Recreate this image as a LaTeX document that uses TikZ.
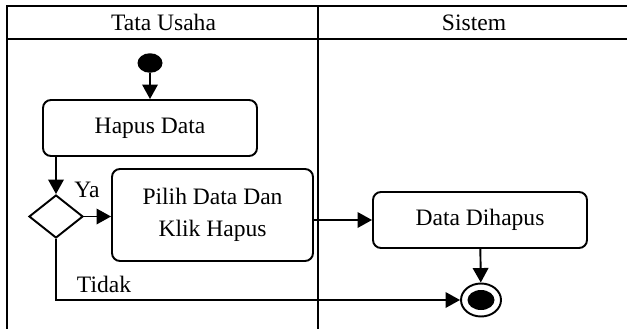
\documentclass[tikz,border=0pt]{standalone}
\usepackage{fontspec}
\setmainfont{Liberation Serif}
\usetikzlibrary{arrows.meta,shapes.geometric}

\tikzset{
  activity/.style={draw, line width=1.1pt, rounded corners=0.16cm, align=center},
  flow/.style={line width=1.1pt, -{Triangle[length=0.29cm,width=0.31cm]}},
  lane/.style={line width=1.1pt}
}

\begin{document}
\begin{tikzpicture}[font=\fontsize{13.4}{18}\selectfont]
        \useasboundingbox (0,0) rectangle (12.54,-6.58);

        % Swimlanes
        \draw[lane] (12.54,-0.12) -- (0.14,-0.12) -- (0.14,-6.58);
        \draw[lane] (0.14,-0.78) -- (12.54,-0.78);
        \draw[lane] (6.36,-0.12) -- (6.36,-6.58);
        \node (tu) at (3.27,-0.45) {Tata Usaha};
        \node (sis) at (9.48,-0.45) {Sistem};

        % Start
        \node[ellipse, fill=black, minimum width=0.5cm, minimum height=0.39cm, inner sep=0pt] (start) at (3.0,-1.26) {};

        % Activities
        \node[activity, minimum width=4.28cm, minimum height=1.12cm] (hapus) at (3.0,-2.56) {Hapus Data};
        \node[activity, minimum width=4.02cm, minimum height=1.84cm] (pilih) at (4.25,-4.30) {Pilih Data Dan\\Klik Hapus};
        \node[activity, minimum width=4.28cm, minimum height=1.12cm] (dihapus) at (9.6,-4.4) {Data Dihapus};

        % Decision
        \node[diamond, draw, line width=1.1pt, minimum width=1.08cm, minimum height=0.86cm, inner sep=0pt] (dec) at (1.12,-4.33) {};

        % End
        \node[ellipse, draw, line width=1.1pt, minimum width=0.8cm, minimum height=0.66cm, inner sep=0pt] (end) at (9.62,-6.0) {};
        \node[ellipse, fill=black, minimum width=0.54cm, minimum height=0.4cm, inner sep=0pt] (endin) at (end.center) {};

        % Flows
        \draw[flow] (start) -- (hapus);
        \draw[flow] (hapus.south -| dec) -- (dec.north);
        \draw[flow] (dec.east) -- (pilih.west |- dec.east);
        \draw[flow] (pilih.east |- dihapus.west) -- (dihapus.west);
        \draw[flow] (dihapus) -- (end);
        \draw[flow] (dec.south) |- (end.west);

        % Guards
        \node (ya) at (1.74,-3.80) {Ya};
        \node (tidak) at (2.08,-5.68) {Tidak};
    \end{tikzpicture}
\end{document}
